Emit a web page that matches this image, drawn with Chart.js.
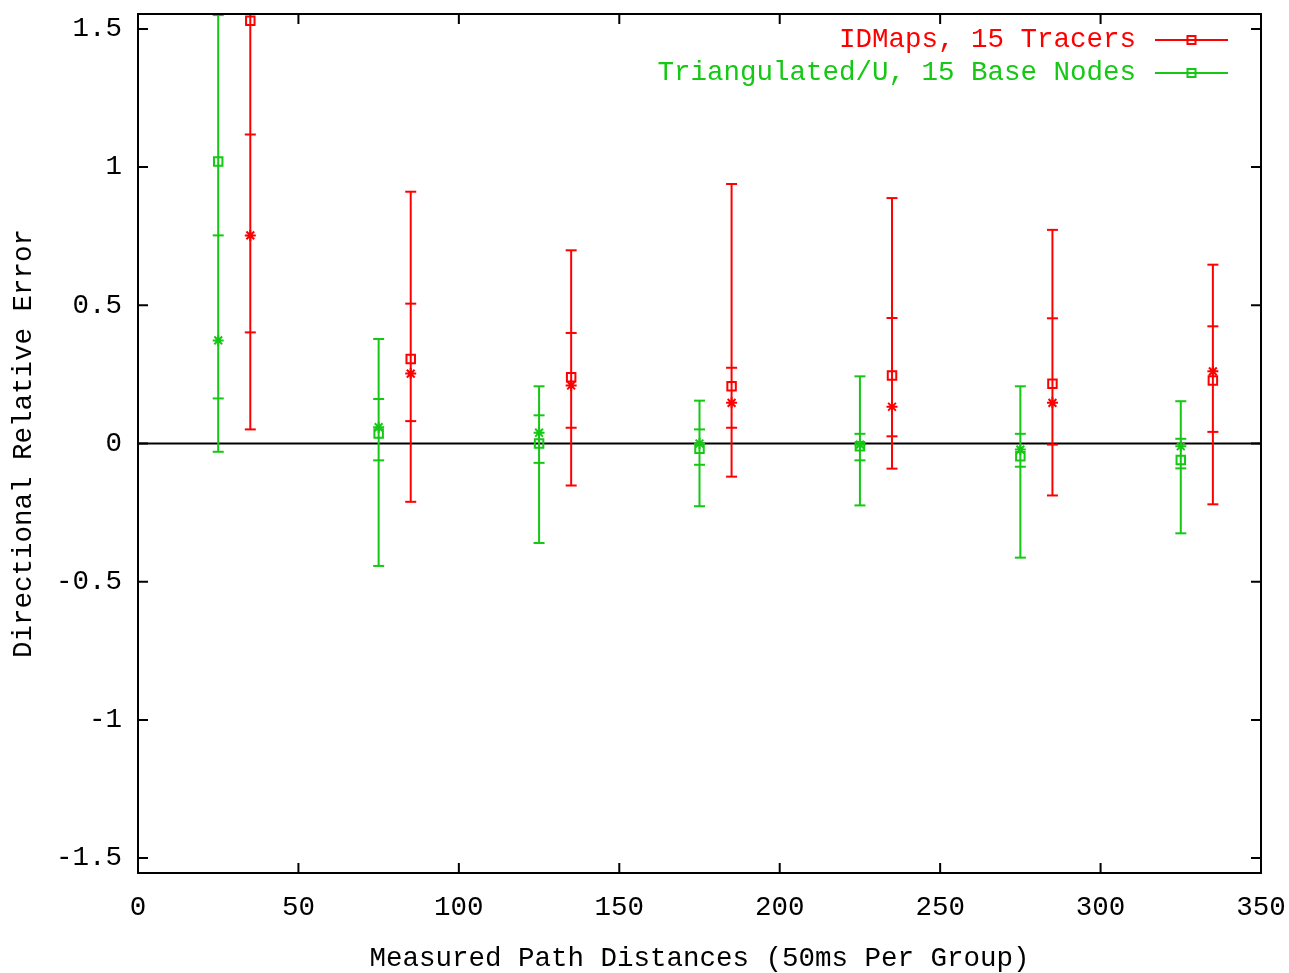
<!DOCTYPE html>
<html>
<head>
<meta charset="utf-8">
<title>Directional Relative Error</title>
<script src="https://cdn.jsdelivr.net/npm/chart.js@4/dist/chart.umd.min.js"></script>
<style>
  html, body { margin: 0; padding: 0; background: #fff; }
  #wrap { width: 1289px; height: 973px; position: relative; }
</style>
</head>
<body>
<div id="wrap"><canvas id="c" width="1289" height="973"></canvas></div>
<script>
// Group positions (ms); each series is offset within its 50 ms group
const idmapsX = [35, 85, 135, 185, 235, 285, 335];
const triX    = [25, 75, 125, 175, 225, 275, 325];

// IDMaps, 15 Tracers: whisker ends, quartiles, median and mean per group
const idmapsLow    = [0.051, -0.211, -0.152, -0.120, -0.091, -0.188, -0.220];
const idmapsQ1     = [0.402, 0.081, 0.057, 0.057, 0.026, -0.004, 0.042];
const idmapsMedian = [0.753, 0.253, 0.210, 0.147, 0.133, 0.147, 0.261];
const idmapsQ3     = [1.118, 0.506, 0.400, 0.274, 0.454, 0.453, 0.424];
const idmapsHigh   = [1.900, 0.911, 0.699, 0.939, 0.888, 0.773, 0.647];
const idmapsMean   = [1.530, 0.306, 0.240, 0.207, 0.246, 0.216, 0.228];

// Triangulated/U, 15 Base Nodes
const triLow    = [-0.030, -0.443, -0.360, -0.227, -0.224, -0.413, -0.325];
const triQ1     = [0.163, -0.061, -0.070, -0.077, -0.061, -0.084, -0.090];
const triMedian = [0.373, 0.059, 0.039, 0.000, -0.004, -0.022, -0.010];
const triQ3     = [0.753, 0.161, 0.102, 0.051, 0.035, 0.035, 0.017];
const triHigh   = [1.550, 0.378, 0.207, 0.155, 0.243, 0.207, 0.153];
const triMean   = [1.020, 0.036, 0.000, -0.019, -0.010, -0.046, -0.060];

const seriesNames = ['IDMaps, 15 Tracers', 'Triangulated/U, 15 Base Nodes'];
const seriesColors = ['#ff0000', '#14c814'];

const xTicks = [0, 50, 100, 150, 200, 250, 300, 350];
const yTicks = [-1.5, -1, -0.5, 0, 0.5, 1, 1.5];

const FONT = { family: '"Liberation Mono", "DejaVu Sans Mono", monospace', size: 27.5 };

function pts(xs, ys) { return xs.map((x, i) => ({ x, y: ys[i] })); }
function whiskers(xs, lo, hi) {
  const out = [];
  xs.forEach((x, i) => { out.push({ x, y: lo[i] }, { x, y: hi[i] }, { x, y: null }); });
  return out;
}

function seriesDatasets(xs, lo, q1, med, q3, hi, mean, color) {
  const base = { borderColor: color, backgroundColor: color, pointBorderColor: color, pointBorderWidth: 2 };
  return [
    Object.assign({}, base, { data: whiskers(xs, lo, hi), showLine: true, borderWidth: 2,
      pointStyle: 'line', pointRadius: 5.5, spanGaps: false }),
    Object.assign({}, base, { data: pts(xs, q1), pointStyle: 'line', pointRadius: 5.5 }),
    Object.assign({}, base, { data: pts(xs, q3), pointStyle: 'line', pointRadius: 5.5 }),
    Object.assign({}, base, { data: pts(xs, med), pointStyle: 'star', pointRadius: 5.5 }),
    Object.assign({}, base, { data: pts(xs, mean), pointStyle: 'rect', pointRadius: 6,
      pointBackgroundColor: 'rgba(0,0,0,0)' })
  ];
}

// Zero line drawn beneath the data
const zeroLine = {
  id: 'zeroLine',
  beforeDatasetsDraw(chart) {
    const { ctx, chartArea: a, scales: { y } } = chart;
    const py = y.getPixelForValue(0);
    ctx.save();
    ctx.strokeStyle = '#000';
    ctx.lineWidth = 2;
    ctx.beginPath();
    ctx.moveTo(a.left, py);
    ctx.lineTo(a.right, py);
    ctx.stroke();
    ctx.restore();
  }
};

// Frame with inward ticks mirrored on all four sides
const frame = {
  id: 'frame',
  afterDraw(chart) {
    const { ctx, chartArea: a, scales: { x, y } } = chart;
    const len = 10;
    ctx.save();
    ctx.strokeStyle = '#000';
    ctx.lineWidth = 2;
    ctx.strokeRect(a.left, a.top, a.right - a.left, a.bottom - a.top);
    ctx.beginPath();
    yTicks.forEach(v => {
      const py = y.getPixelForValue(v);
      ctx.moveTo(a.left, py); ctx.lineTo(a.left + len, py);
      ctx.moveTo(a.right, py); ctx.lineTo(a.right - len, py);
    });
    xTicks.forEach(v => {
      const px = x.getPixelForValue(v);
      ctx.moveTo(px, a.bottom); ctx.lineTo(px, a.bottom - len);
      ctx.moveTo(px, a.top); ctx.lineTo(px, a.top + len);
    });
    ctx.stroke();
    ctx.restore();
  }
};

// Key in the upper right: label text followed by a line sample with a square
const key = {
  id: 'key',
  afterDraw(chart) {
    const { ctx, chartArea: a } = chart;
    const sampleRight = a.right - 33;
    const sampleLeft = sampleRight - 73;
    const textRight = sampleLeft - 19;
    ctx.save();
    ctx.font = FONT.size + 'px ' + FONT.family;
    ctx.textAlign = 'right';
    ctx.textBaseline = 'middle';
    seriesNames.forEach((name, i) => {
      const py = a.top + 26 + i * 33;
      ctx.fillStyle = seriesColors[i];
      ctx.fillText(name, textRight, py);
      ctx.strokeStyle = seriesColors[i];
      ctx.lineWidth = 2;
      ctx.beginPath();
      ctx.moveTo(sampleLeft, py);
      ctx.lineTo(sampleRight, py);
      ctx.stroke();
      const cx = (sampleLeft + sampleRight) / 2;
      ctx.strokeRect(cx - 4, py - 4, 8, 8);
    });
    ctx.restore();
  }
};

new Chart(document.getElementById('c'), {
  type: 'scatter',
  data: {
    datasets: [
      ...seriesDatasets(idmapsX, idmapsLow, idmapsQ1, idmapsMedian, idmapsQ3, idmapsHigh, idmapsMean, seriesColors[0]),
      ...seriesDatasets(triX, triLow, triQ1, triMedian, triQ3, triHigh, triMean, seriesColors[1])
    ]
  },
  options: {
    responsive: false,
    animation: false,
    events: [],
    layout: { padding: { top: 14, right: 28, left: 0, bottom: 0 } },
    plugins: { legend: { display: false }, tooltip: { enabled: false } },
    scales: {
      x: {
        type: 'linear', min: 0, max: 350,
        afterFit(s) { s.height = 100; s.paddingLeft = 0; s.paddingRight = 0; },
        afterBuildTicks(s) { s.ticks = xTicks.map(v => ({ value: v })); },
        grid: { display: false, drawTicks: false },
        border: { display: false },
        ticks: { color: '#000', font: FONT, padding: 18, maxRotation: 0, autoSkip: false,
          callback: v => String(v) },
        title: { display: true, text: 'Measured Path Distances (50ms Per Group)', color: '#000',
          font: FONT, padding: { top: 0, bottom: -2 } }
      },
      y: {
        type: 'linear', min: -1.554, max: 1.554,
        afterFit(s) { s.width = 138; s.paddingTop = 0; s.paddingBottom = 0; },
        afterBuildTicks(s) { s.ticks = yTicks.map(v => ({ value: v })); },
        grid: { display: false, drawTicks: false },
        border: { display: false },
        ticks: { color: '#000', font: FONT, padding: 16, autoSkip: false,
          callback: v => String(v) },
        title: { display: true, text: 'Directional Relative Error', color: '#000',
          font: FONT, padding: { top: 7, bottom: 0 } }
      }
    }
  },
  plugins: [zeroLine, frame, key]
});
</script>
</body>
</html>
